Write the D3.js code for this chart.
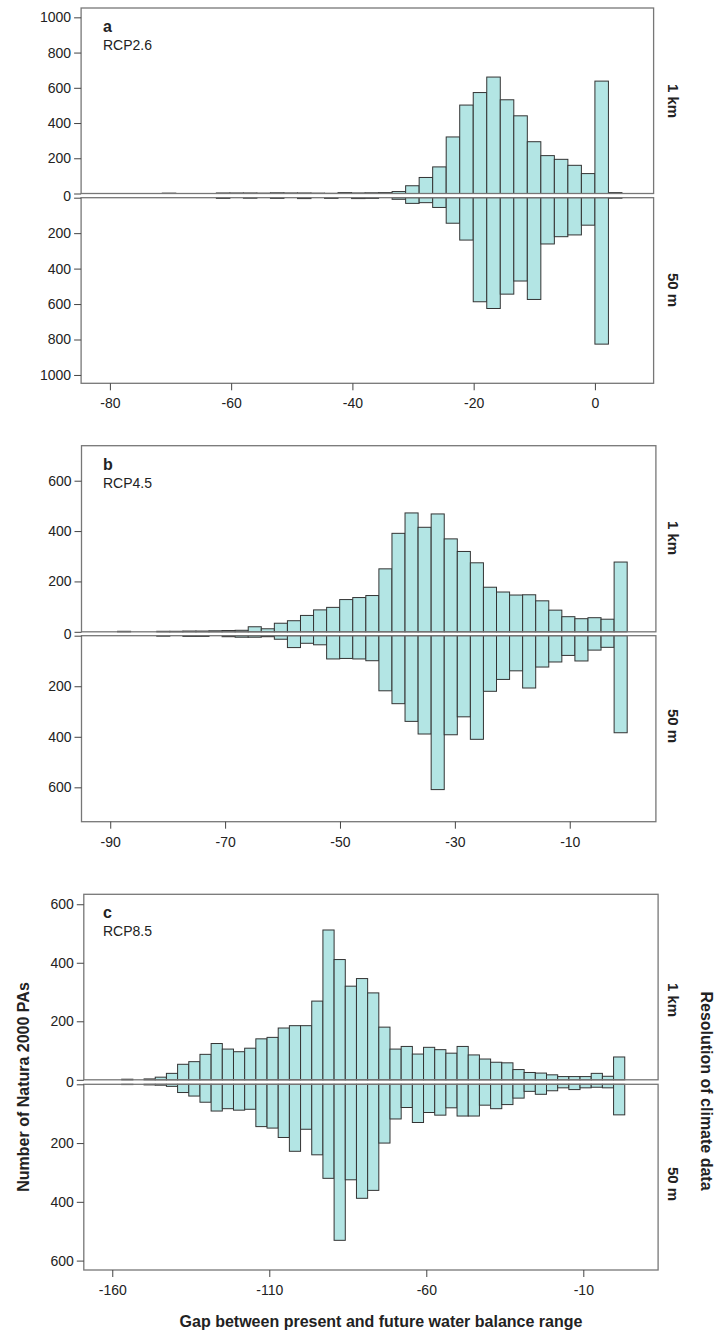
<!DOCTYPE html>
<html lang="en">
<head>
<meta charset="UTF-8">
<title>Gap between present and future water balance range</title>
<style>
  body { margin: 0; background: #fff; }
  svg text { font-family: "Liberation Sans", Arial, sans-serif; fill: #222; }
</style>
</head>
<body>
<div id="chart"></div>
<script src="https://cdn.jsdelivr.net/npm/d3@7/dist/d3.min.js"></script>
<script>
// histogram bins: left edge of the first bar and bar width (x units)
const rcp26Start = -71.36, rcp26Width = 2.23;
const rcp45Start = -91.0, rcp45Width = 2.275;
const rcp85Start = -157.0, rcp85Width = 3.56;

// counts per bin, 1 km climate data (top) and 50 m climate data (bottom)
const rcp26_1km = [2,0,0,0,3,3,3,2,4,3,3,2,1,5,3,4,5,11,
    44,91,151,321,502,573,661,532,441,294,215,194,160,113,638,5];
const rcp26_50m = [0,0,0,0,4,0,3,0,4,0,5,0,4,0,5,4,0,9,
    32,28,55,144,239,587,625,544,470,574,261,220,210,155,826,3];

const rcp45_1km = [0,2,0,0,2,2,3,3,4,5,6,20,12,34,44,65,87,97,128,136,144,
    250,391,472,415,468,369,319,274,177,158,146,147,123,86,60,52,56,50,277];
const rcp45_50m = [0,0,0,0,2,0,3,3,0,4,6,6,4,14,47,30,36,92,90,92,99,
    218,269,339,389,609,392,321,410,220,173,139,207,124,104,78,100,57,46,384];

const rcp85_1km = [2,0,3,9,22,53,62,87,124,105,96,108,140,145,177,185,185,269,512,411,
    320,346,297,180,105,114,88,111,103,91,114,85,71,60,58,35,25,23,17,11,11,11,22,12,78];
const rcp85_50m = [1,0,2,3,7,28,40,61,91,83,88,85,144,149,181,228,153,240,320,531,
    325,388,361,200,118,79,130,96,105,80,108,108,71,83,69,47,24,34,22,12,18,12,10,12,104];

const xTicksA = [-80, -60, -40, -20, 0];
const xTicksB = [-90, -70, -50, -30, -10];
const xTicksC = [-160, -110, -60, -10];
const yTicksA = [0, 200, 400, 600, 800, 1000];
const yTicksB = [0, 200, 400, 600];
const yTicksC = [0, 200, 400, 600];

const panelLetters = ["a", "b", "c"];
const scenarios = ["RCP2.6", "RCP4.5", "RCP8.5"];
const resolutions = ["1 km", "50 m"];

const width = 719, height = 1333;
const barFill = "#b3e5e4", barStroke = "#333";
const plain = (d) => String(d);  // "-80", "1000": hyphen, no thousands comma

// layout of each panel (pixels) and its axis extents
const panels = [
    {letter: panelLetters[0], name: scenarios[0], top: rcp26_1km, bottom: rcp26_50m,
     start: rcp26Start, step: rcp26Width, xTicks: xTicksA, yTicks: yTicksA,
     xDomain: [-84.75, 9.68], yMaxU: 1053, yMaxL: 1047,
     left: 81.1, right: 653.6, topU: 8, bottomU: 193.5, topL: 197.7, bottomL: 383.3,
     sideU: 101, sideL: 290},
    {letter: panelLetters[1], name: scenarios[1], top: rcp45_1km, bottom: rcp45_50m,
     start: rcp45Start, step: rcp45Width, xTicks: xTicksB, yTicks: yTicksB,
     xDomain: [-95.0, 5.0], yMaxU: 739, yMaxL: 736,
     left: 81.5, right: 655.9, topU: 445.7, bottomU: 631.8, topL: 635.7, bottomL: 821.7,
     sideU: 538, sideL: 726},
    {letter: panelLetters[2], name: scenarios[2], top: rcp85_1km, bottom: rcp85_50m,
     start: rcp85Start, step: rcp85Width, xTicks: xTicksC, yTicks: yTicksC,
     xDomain: [-169.07, 13.82], yMaxU: 634, yMaxL: 632,
     left: 83.8, right: 658.1, topU: 894.3, bottomU: 1079.8, topL: 1084.3, bottomL: 1270,
     sideU: 1000, sideL: 1184}
];

const svg = d3.select("#chart").append("svg")
    .attr("width", width)
    .attr("height", height);

function drawPanel(p) {
    const g = svg.append("g").attr("class", "panel-" + p.letter);

    const x = d3.scaleLinear().domain(p.xDomain).range([p.left, p.right]);
    const yU = d3.scaleLinear().domain([0, p.yMaxU]).range([p.bottomU, p.topU]);
    const yL = d3.scaleLinear().domain([0, p.yMaxL]).range([p.topL, p.bottomL]);

    const binsOf = (arr) => arr.map((v, i) => ({
        x0: p.start + i * p.step,
        x1: p.start + (i + 1) * p.step,
        v: v
    })).filter((d) => d.v > 0);

    // 1 km bars grow upwards from the shared zero line
    g.append("g").selectAll("rect")
        .data(binsOf(p.top))
        .join("rect")
        .attr("x", (d) => x(d.x0))
        .attr("width", (d) => x(d.x1) - x(d.x0))
        .attr("y", (d) => yU(d.v))
        .attr("height", (d) => yU(0) - yU(d.v))
        .attr("fill", barFill)
        .attr("stroke", barStroke)
        .attr("stroke-width", 1);

    // 50 m bars hang downwards
    g.append("g").selectAll("rect")
        .data(binsOf(p.bottom))
        .join("rect")
        .attr("x", (d) => x(d.x0))
        .attr("width", (d) => x(d.x1) - x(d.x0))
        .attr("y", yL(0))
        .attr("height", (d) => yL(d.v) - yL(0))
        .attr("fill", barFill)
        .attr("stroke", barStroke)
        .attr("stroke-width", 1);

    // frames
    [[p.topU, p.bottomU], [p.topL, p.bottomL]].forEach(([t, b]) => {
        g.append("rect")
            .attr("x", p.left).attr("y", t)
            .attr("width", p.right - p.left).attr("height", b - t)
            .attr("fill", "none")
            .attr("stroke", "#777")
            .attr("stroke-width", 1.3);
    });

    // y axes
    const axU = g.append("g")
        .attr("transform", `translate(${p.left},0)`)
        .call(d3.axisLeft(yU).tickValues(p.yTicks).tickSize(7).tickPadding(3)
            .tickSizeOuter(0).tickFormat(plain));
    const axL = g.append("g")
        .attr("transform", `translate(${p.left},0)`)
        .call(d3.axisLeft(yL).tickValues(p.yTicks).tickSize(7).tickPadding(3).tickSizeOuter(0)
            .tickFormat((d) => d === 0 ? "" : plain(d)));
    // single "0" label between the two zero lines
    axU.selectAll(".tick text").filter((d) => d === 0)
        .attr("y", (p.topL - p.bottomU) / 2);

    // x axis
    const axX = g.append("g")
        .attr("transform", `translate(0,${p.bottomL})`)
        .call(d3.axisBottom(x).tickValues(p.xTicks).tickSize(7).tickPadding(8)
            .tickSizeOuter(0).tickFormat(plain));

    [axU, axL, axX].forEach((ax) => {
        ax.select(".domain").remove();
        ax.selectAll(".tick line").attr("stroke", "#444");
        ax.selectAll(".tick text")
            .style("font-family", "'Liberation Sans', Arial, sans-serif")
            .style("font-size", "14px")
            .attr("fill", "#222");
    });

    // panel letter and scenario
    g.append("text")
        .attr("x", 103).attr("y", p.topU + 24)
        .style("font-size", "16px").style("font-weight", "bold")
        .text(p.letter);
    g.append("text")
        .attr("x", 103).attr("y", p.topU + 42)
        .style("font-size", "14px")
        .text(p.name);

    // resolution labels on the right
    [[p.sideU, resolutions[0]], [p.sideL, resolutions[1]]].forEach(([cy, t]) => {
        g.append("text")
            .attr("transform", `translate(673,${cy}) rotate(90)`)
            .attr("text-anchor", "middle")
            .attr("dominant-baseline", "central")
            .style("font-size", "15px").style("font-weight", "bold")
            .text(t);
    });
}

panels.forEach(drawPanel);

// shared axis titles
svg.append("text")
    .attr("transform", "translate(23,1087) rotate(-90)")
    .attr("text-anchor", "middle")
    .attr("dominant-baseline", "central")
    .style("font-size", "16px").style("font-weight", "bold")
    .text("Number of Natura 2000 PAs");

svg.append("text")
    .attr("transform", "translate(706,1091) rotate(90)")
    .attr("text-anchor", "middle")
    .attr("dominant-baseline", "central")
    .style("font-size", "16px").style("font-weight", "bold")
    .text("Resolution of climate data");

svg.append("text")
    .attr("x", 381).attr("y", 1327)
    .attr("text-anchor", "middle")
    .style("font-size", "16px").style("font-weight", "bold")
    .text("Gap between present and future water balance range");
</script>
</body>
</html>
